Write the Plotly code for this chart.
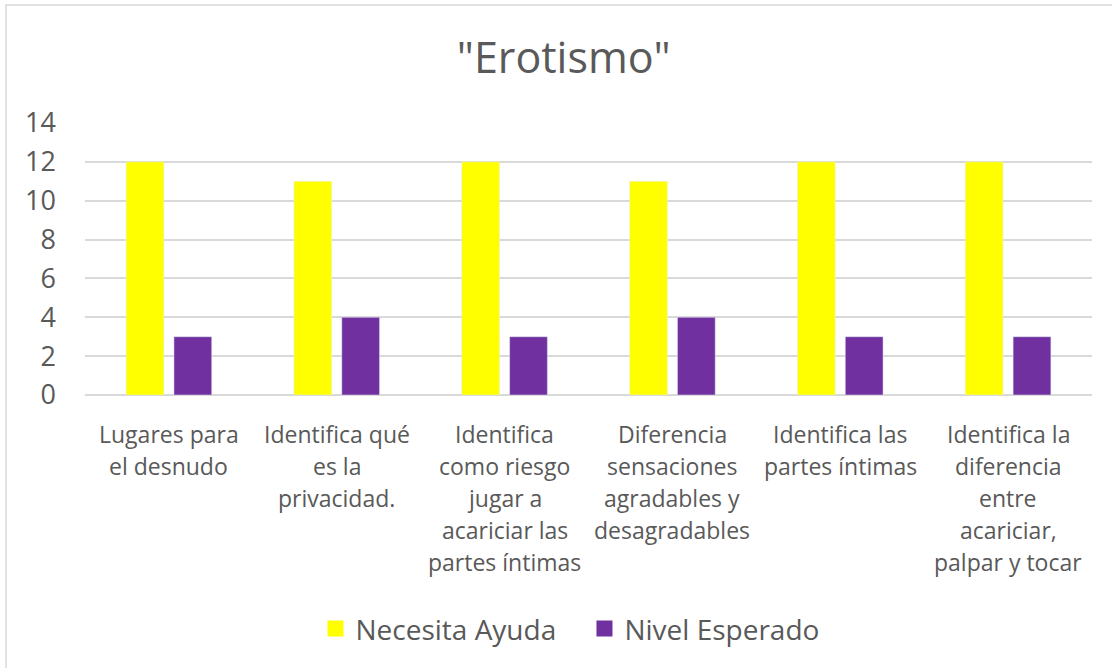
import plotly.graph_objects as go

categories = [
    "Lugares para<br>el desnudo",
    "Identifica qué<br>es la<br>privacidad.",
    "Identifica<br>como riesgo<br>jugar a<br>acariciar las<br>partes íntimas",
    "Diferencia<br>sensaciones<br>agradables y<br>desagradables",
    "Identifica las<br>partes íntimas",
    "Identifica la<br>diferencia<br>entre<br>acariciar,<br>palpar y tocar",
]
necesita_ayuda = [12, 11, 12, 11, 12, 12]
nivel_esperado = [3, 4, 3, 4, 3, 3]
series_names = ["Necesita Ayuda", "Nivel Esperado"]
series_colors = ["#FFFF00", "#7030A0"]

FONT = "Open Sans, sans-serif"
GREY = "#595959"
xpos = list(range(len(categories)))

fig = go.Figure()
for name, values, color in zip(series_names, [necesita_ayuda, nivel_esperado], series_colors):
    fig.add_trace(go.Bar(name=name, x=xpos, y=values, marker_color=color,
                         showlegend=False, legendgroup=name))
# legend entries with larger square swatches
for name, color in zip(series_names, series_colors):
    fig.add_trace(go.Scatter(name=name, x=[None], y=[None], mode="markers",
                             marker=dict(symbol="square", size=17, color=color),
                             legendgroup=name))

# category labels, one annotation per wrapped line for Excel-like line spacing
annotations = []
for i, label in enumerate(categories):
    for j, line in enumerate(label.split("<br>")):
        annotations.append(dict(
            x=i, xref="x", y=0, yref="paper", yanchor="middle", xanchor="center",
            yshift=-(39 + 32 * j), text=line, showarrow=False,
            font=dict(size=23, color=GREY, family=FONT),
        ))

fig.update_layout(
    width=1112, height=668,
    margin=dict(l=85, r=20, t=123, b=273),
    paper_bgcolor="white", plot_bgcolor="white",
    font=dict(family=FONT, color=GREY, size=20),
    barmode="group", bargap=0.43, bargroupgap=0.21,
    title=dict(text='"Erotismo"', x=0.507, xref="container", xanchor="center",
               y=1 - 58 / 668, yanchor="middle",
               font=dict(size=43, color=GREY, family=FONT)),
    showlegend=True,
    legend=dict(orientation="h", x=0.496, xanchor="center", y=-0.86, yanchor="middle",
                font=dict(size=28, color=GREY), itemwidth=30, traceorder="normal",
                entrywidth=224, entrywidthmode="pixels"),
    annotations=annotations,
    shapes=[dict(type="rect", xref="paper", yref="paper",
                 x0=(6 - 85) / 1007, x1=1.05, y0=-1.2, y1=(395 - 5) / 272,
                 line=dict(color="#d9d9d9", width=1.5), layer="below")],
)
fig.update_xaxes(
    tickmode="array", tickvals=xpos, ticktext=[""] * len(xpos),
    range=[-0.5, len(categories) - 0.5], showgrid=False, showline=False,
    zeroline=False, ticks="",
)
fig.update_yaxes(
    range=[0, 14], dtick=2, showgrid=True, gridcolor="#d9d9d9", gridwidth=1.5,
    zeroline=True, zerolinecolor="#d9d9d9", zerolinewidth=1.5, showline=False,
    tickfont=dict(size=27, color=GREY), ticks="", ticklabelstandoff=28,
)

fig.write_html("out.html")
